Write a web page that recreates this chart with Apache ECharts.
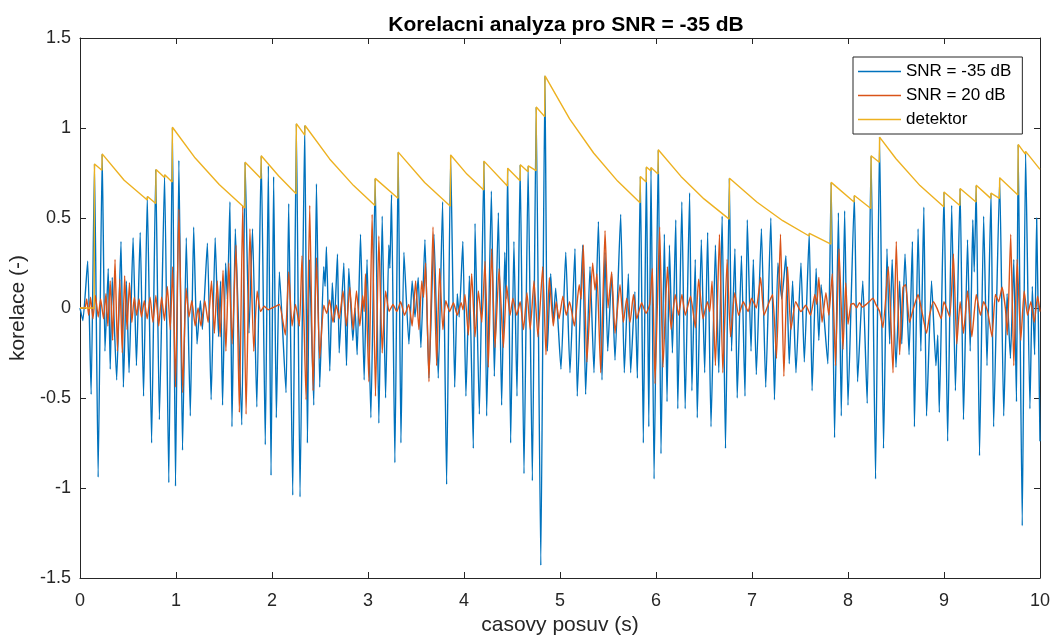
<!DOCTYPE html>
<html>
<head>
<meta charset="utf-8">
<script src="https://cdn.jsdelivr.net/npm/echarts/dist/echarts.min.js"></script>
<style>html,body{margin:0;padding:0;background:#fff;}#c{width:1054px;height:641px;}</style>
</head>
<body>
<div id="c"></div>
<script>
// ---- data: [time (s), correlation] ----
const snrMinus35 = [
[0,0],[0.03,-0.07],[0.08,0.26],[0.116,-0.48],[0.151,0.80],[0.189,-0.94],[0.231,0.856],[0.26,-0.24],[0.294,0.22],[0.315,-0.34],[0.336,0.17],[0.382,-0.40],[0.427,0.37],[0.452,-0.44],[0.483,0.15],[0.511,-0.36],[0.553,0.39],[0.588,-0.32],[0.627,0.42],[0.662,-0.49],[0.701,0.62],[0.746,-0.75],[0.789,0.77],[0.827,-0.62],[0.881,0.74],[0.925,-0.97],[0.963,1.004],[0.995,-0.99],
[1.03,0.82],[1.068,-0.79],[1.107,0.39],[1.149,-0.60],[1.184,0.45],[1.219,-0.20],[1.254,0.04],[1.275,-0.12],[1.327,0.36],[1.366,-0.51],[1.408,0.39],[1.443,-0.16],[1.464,0.15],[1.485,-0.54],[1.517,0.25],[1.535,0.05],[1.562,0.59],[1.583,-0.66],[1.618,0.44],[1.685,-0.65],[1.72,0.81],[1.76,-0.14],[1.797,0.44],[1.842,-0.55],[1.888,0.846],[1.93,-0.76],[1.962,0.79],[1.99,-0.93],
[2.017,0.73],[2.045,-0.61],[2.077,0.20],[2.146,-0.47],[2.174,0.58],[2.216,-1.04],[2.254,1.024],[2.292,-1.05],[2.341,1.014],[2.369,-0.75],[2.39,0.27],[2.435,-0.54],[2.463,0.69],[2.497,-0.44],[2.539,0.23],[2.553,0.12],[2.567,0.34],[2.602,-0.35],[2.628,0.14],[2.65,-0.08],[2.682,0.30],[2.70,-0.25],[2.748,0.25],[2.776,-0.32],[2.80,0.22],[2.842,-0.18],[2.865,0.0],[2.887,-0.26],[2.922,0.41],[2.96,-0.40],[2.99,0.27],
[3.03,-0.61],[3.075,0.72],[3.113,-0.64],[3.148,0.51],[3.183,-0.50],[3.217,0.35],[3.228,0.22],[3.245,0.63],[3.28,-0.86],[3.315,0.866],[3.343,-0.75],[3.374,0.31],[3.426,-0.20],[3.46,0.15],[3.49,-0.05],[3.523,0.17],[3.551,-0.22],[3.593,0.38],[3.635,-0.39],[3.687,0.41],[3.732,-0.39],[3.777,0.59],[3.819,-0.98],[3.861,0.85],[3.903,-0.44],[3.93,0.08],[3.95,-0.05],[3.988,0.37],
[4.02,-0.49],[4.056,0.18],[4.097,-0.78],[4.115,0.47],[4.16,-0.59],[4.208,0.816],[4.236,-0.60],[4.285,0.65],[4.316,-0.38],[4.358,0.53],[4.392,-0.54],[4.425,0.31],[4.438,0.05],[4.455,0.777],[4.486,-0.75],[4.52,0.37],[4.552,-0.49],[4.585,0.796],[4.625,-0.92],[4.668,0.79],[4.712,-0.96],[4.752,1.117],[4.80,-1.43],[4.843,1.29],[4.868,-0.24],[4.903,0.19],[4.93,-0.08],[4.955,0.11],
[5.01,-0.34],[5.06,0.31],[5.104,-0.36],[5.156,0.33],[5.18,-0.49],[5.236,0.35],[5.267,-0.48],[5.3125,0.23],[5.354,-0.36],[5.40,0.48],[5.4375,-0.40],[5.469,0.31],[5.497,-0.24],[5.538,0.19],[5.573,-0.29],[5.632,0.52],[5.67,-0.36],[5.712,0.19],[5.736,-0.36],[5.78,0.09],[5.806,-0.39],[5.837,0.731],[5.868,-0.75],[5.90,0.783],[5.925,-0.66],[5.948,0.78],[5.98,-0.95],
[6.024,0.879],[6.052,-0.81],[6.087,0.41],[6.115,-0.52],[6.14,0.35],[6.171,-0.25],[6.206,0.49],[6.227,-0.56],[6.269,0.59],[6.304,-0.56],[6.35,0.64],[6.374,-0.46],[6.409,0.27],[6.43,-0.61],[6.472,0.38],[6.507,-0.36],[6.538,0.42],[6.573,-0.66],[6.619,0.35],[6.654,-0.36],[6.689,0.51],[6.724,-0.78],[6.764,0.721],[6.787,-0.24],[6.822,0.33],[6.846,-0.50],[6.89,0.29],[6.927,-0.49],[6.951,0.49],[6.99,-0.24],
[7.014,0.27],[7.045,-0.37],[7.098,0.44],[7.143,-0.44],[7.196,0.50],[7.234,-0.51],[7.27,0.25],[7.31,0.05],[7.353,0.29],[7.388,-0.31],[7.423,0.15],[7.458,-0.36],[7.51,0.25],[7.545,-0.30],[7.596,0.415],[7.626,-0.46],[7.668,0.22],[7.696,-0.18],[7.72,0.13],[7.79,-0.31],[7.825,0.698],[7.86,-0.72],[7.90,0.53],[7.93,-0.60],[7.965,0.54],
[8.0,-0.54],[8.066,0.625],[8.1,-0.41],[8.154,0.15],[8.2,-0.53],[8.241,0.846],[8.287,-0.95],[8.329,0.949],[8.37,-0.78],[8.406,0.33],[8.434,-0.20],[8.46,0.27],[8.50,-0.33],[8.538,0.15],[8.56,-0.2],[8.594,0.30],[8.636,-0.26],[8.671,0.37],[8.692,-0.66],[8.73,0.44],[8.759,-0.24],[8.79,0.56],[8.818,-0.60],[8.87,0.15],[8.916,-0.32],[8.935,-0.15],[8.951,-0.58],
[9.0,0.644],[9.038,-0.74],[9.08,0.57],[9.119,-0.46],[9.168,0.664],[9.203,-0.62],[9.245,0.38],[9.273,-0.24],[9.3,0.49],[9.315,0.2],[9.336,0.682],[9.37,-0.82],[9.413,0.51],[9.448,-0.32],[9.49,0.638],[9.517,-0.66],[9.58,0.723],[9.622,-0.60],[9.657,0.08],[9.692,-0.28],[9.727,0.27],[9.755,-0.52],[9.773,0.909],[9.815,-1.21],[9.85,0.87],[9.895,-0.56],[9.92,0.12],[9.944,-0.26],[9.965,0.50],[10.0,-0.74]
];

const snr20 = [
[0,0],[0.05,0.0],[0.07,0.05],[0.09,-0.04],[0.11,0.06],[0.135,-0.06],[0.16,0.07],[0.19,-0.05],[0.215,0.05],[0.245,-0.06],[0.27,0.08],[0.29,-0.10],[0.315,0.15],[0.34,-0.18],[0.365,0.27],[0.39,-0.24],[0.415,0.16],[0.44,-0.25],[0.465,0.18],[0.49,-0.12],[0.515,0.14],[0.54,-0.08],[0.565,0.06],[0.59,-0.04],[0.615,0.05],[0.64,-0.05],[0.67,0.04],[0.70,-0.06],[0.73,0.06],[0.76,-0.08],[0.79,0.07],[0.82,-0.10],[0.85,0.06],[0.88,-0.07],[0.91,0.12],[0.94,-0.12],[0.965,0.23],[0.995,-0.44],
[1.03,0.55],[1.07,-0.47],[1.105,0.11],[1.135,-0.05],[1.165,0.04],[1.20,-0.10],[1.23,0.0],[1.26,-0.10],[1.30,0.04],[1.335,-0.08],[1.37,0.15],[1.40,-0.14],[1.43,0.15],[1.46,-0.16],[1.49,0.21],[1.52,-0.24],[1.55,0.25],[1.585,-0.20],[1.625,0.35],[1.66,-0.58],[1.695,0.57],[1.73,-0.59],[1.77,0.44],[1.81,-0.24],[1.845,0.095],[1.88,-0.02],[1.92,0.01],[1.96,-0.01],
[2.0,0.0],[2.04,0.01],[2.077,0.02],[2.139,-0.15],[2.174,0.20],[2.209,-0.10],[2.245,0.02],[2.285,-0.10],[2.313,0.29],[2.355,-0.51],[2.393,0.57],[2.428,-0.46],[2.463,0.28],[2.497,-0.28],[2.539,0.015],[2.57,-0.03],[2.6,0.045],[2.635,-0.08],[2.67,0.015],[2.70,-0.06],[2.74,0.095],[2.775,-0.10],[2.81,0.115],[2.845,-0.12],[2.88,0.095],[2.915,-0.10],[2.945,0.07],[2.96,-0.02],[2.974,0.19],
[3.009,-0.41],[3.043,0.52],[3.078,-0.49],[3.113,0.40],[3.148,-0.25],[3.183,0.095],[3.22,-0.02],[3.26,0.02],[3.30,-0.02],[3.34,0.035],[3.38,-0.04],[3.425,0.02],[3.46,-0.10],[3.496,0.15],[3.53,-0.12],[3.56,0.15],[3.578,0.06],[3.6,0.25],[3.635,-0.41],[3.677,0.45],[3.715,-0.32],[3.746,0.22],[3.78,-0.12],[3.81,0.04],[3.85,-0.02],[3.89,0.03],[3.93,-0.04],[3.97,0.03],[3.99,-0.01],
[4.01,0.075],[4.045,-0.15],[4.08,0.19],[4.115,-0.16],[4.15,0.095],[4.185,-0.08],[4.219,0.26],[4.253,-0.33],[4.288,0.33],[4.323,-0.22],[4.365,0.22],[4.41,-0.22],[4.444,0.125],[4.48,-0.04],[4.51,0.055],[4.55,-0.04],[4.585,0.035],[4.62,-0.12],[4.656,0.085],[4.69,-0.12],[4.729,0.15],[4.77,-0.16],[4.82,0.23],[4.854,-0.26],[4.889,0.17],[4.93,-0.10],[4.96,0.035],[4.99,-0.06],
[5.03,0.065],[5.065,-0.04],[5.10,0.035],[5.15,-0.10],[5.20,0.13],[5.22,0.05],[5.243,0.35],[5.28,-0.30],[5.34,0.25],[5.365,0.1],[5.385,0.19],[5.424,-0.36],[5.469,0.43],[5.50,0.0],[5.538,0.20],[5.573,-0.14],[5.625,0.13],[5.66,-0.08],[5.695,0.055],[5.73,-0.08],[5.765,0.075],[5.80,-0.06],[5.85,0.03],[5.895,-0.03],[5.935,0.02],[5.962,0.22],[5.99,-0.42],
[6.038,0.45],[6.073,-0.33],[6.119,0.23],[6.157,-0.12],[6.2,0.075],[6.235,-0.04],[6.27,0.075],[6.305,-0.04],[6.36,0.065],[6.41,-0.11],[6.444,0.16],[6.49,-0.06],[6.535,0.035],[6.56,-0.02],[6.584,0.15],[6.619,-0.32],[6.661,0.41],[6.696,-0.36],[6.741,0.27],[6.776,-0.16],[6.82,0.085],[6.86,-0.04],[6.91,0.035],[6.96,-0.02],[6.995,0.055],
[7.045,0.0],[7.09,0.17],[7.125,-0.04],[7.18,0.035],[7.215,0.075],[7.255,-0.28],[7.297,0.41],[7.332,-0.38],[7.37,0.23],[7.405,-0.12],[7.455,0.035],[7.51,-0.02],[7.56,0.015],[7.61,-0.04],[7.655,0.075],[7.675,0.02],[7.696,0.17],[7.73,-0.08],[7.77,0.085],[7.80,-0.04],[7.836,0.19],[7.87,-0.32],[7.906,0.33],[7.948,-0.23],[7.976,0.14],
[8.0,-0.09],[8.03,0.02],[8.06,0.025],[8.09,0.0],[8.12,0.03],[8.15,0.005],[8.19,0.02],[8.22,0.035],[8.26,0.055],[8.29,0.02],[8.33,-0.02],[8.364,-0.11],[8.42,0.23],[8.469,-0.36],[8.503,0.37],[8.538,-0.26],[8.573,0.115],[8.60,0.13],[8.64,-0.08],[8.68,-0.005],[8.73,0.075],[8.77,-0.02],[8.818,-0.14],[8.85,-0.04],[8.89,0.035],[8.93,-0.005],[8.97,-0.06],
[9.0,0.035],[9.06,-0.05],[9.098,0.30],[9.133,-0.20],[9.168,0.035],[9.203,-0.14],[9.245,0.095],[9.29,-0.16],[9.336,0.075],[9.38,-0.04],[9.413,0.035],[9.455,-0.02],[9.5,-0.16],[9.535,0.075],[9.57,0.035],[9.605,0.115],[9.64,-0.005],[9.66,-0.15],[9.695,0.41],[9.727,-0.32],[9.762,0.27],[9.80,-0.18],[9.835,0.095],[9.87,-0.04],[9.905,0.035],[9.94,-0.08],[9.975,0.065],[10.0,-0.02]
];

const detektor = [
[0,0],[0.148,0],[0.151,0.80],[0.228,0.765],[0.231,0.856],[0.46,0.71],[0.701,0.60],[0.704,0.62],[0.789,0.58],[0.792,0.77],[0.88,0.725],[0.883,0.74],[0.96,0.70],[0.963,1.004],[1.2,0.833],[1.45,0.686],[1.717,0.555],[1.72,0.81],[1.885,0.72],[1.888,0.846],[2.07,0.733],[2.251,0.635],[2.254,1.024],[2.341,0.96],[2.344,1.014],[2.6,0.828],[2.85,0.68],[3.072,0.57],[3.075,0.72],[3.312,0.61],[3.315,0.866],[3.59,0.697],[3.858,0.565],[3.861,0.85],[4.03,0.744],[4.205,0.655],[4.208,0.816],[4.452,0.678],[4.455,0.777],[4.584,0.707],[4.587,0.796],[4.667,0.757],[4.67,0.79],[4.75,0.763],[4.753,1.117],[4.84,1.063],[4.844,1.29],[5.1,1.051],[5.35,0.861],[5.6,0.705],[5.834,0.585],[5.837,0.731],[5.897,0.70],[5.90,0.783],[5.945,0.762],[5.948,0.78],[6.021,0.745],[6.024,0.879],[6.26,0.731],[6.5,0.606],[6.762,0.494],[6.766,0.721],[7.05,0.589],[7.32,0.485],[7.595,0.40],[7.598,0.415],[7.822,0.355],[7.825,0.698],[8.063,0.589],[8.066,0.625],[8.238,0.553],[8.241,0.846],[8.326,0.81],[8.329,0.949],[8.5,0.829],[8.75,0.68],[8.997,0.562],[9.0,0.644],[9.165,0.569],[9.168,0.664],[9.333,0.589],[9.336,0.682],[9.487,0.609],[9.49,0.638],[9.577,0.609],[9.58,0.723],[9.77,0.628],[9.773,0.909],[9.847,0.855],[9.85,0.87],[10.0,0.77]
];

const seriesNames = ['SNR = -35 dB', 'SNR = 20 dB', 'detektor'];
const seriesColors = ['#0072BD', '#D95319', '#EDB120'];
const seriesSmooth = [0.15, 0.15, false];
const titleText = 'Korelacni analyza pro SNR = -35 dB';
const xName = 'casovy posuv (s)';
const yName = 'korelace (-)';

const FONT = '"Liberation Sans", Arial, Helvetica, sans-serif';
const AX = '#262626';

const chart = echarts.init(document.getElementById('c'), null, {renderer: 'canvas'});

function boxAxis(extra) {
  return Object.assign({
    type: 'value',
    axisLine: {show: true, onZero: false, lineStyle: {color: AX, width: 1}},
    axisTick: {show: true, inside: true, length: 6, lineStyle: {color: AX, width: 1}},
    splitLine: {show: false},
  }, extra);
}

const option = {
  animation: false,
  backgroundColor: '#fff',
  title: {
    text: titleText, left: 561, top: 10, textAlign: 'center',
    textStyle: {fontFamily: FONT, fontSize: 21, fontWeight: 'bold', color: '#000'}
  },
  grid: {left: 80, right: 14, top: 38, bottom: 61, containLabel: false},
  legend: {
    orient: 'vertical', left: 853, top: 57,
    padding: [6, 11, 6, 5], itemWidth: 43, itemHeight: 1.4, itemGap: 7,
    icon: 'rect',
    backgroundColor: '#fff', borderColor: AX, borderWidth: 1, borderRadius: 0,
    textStyle: {fontFamily: FONT, fontSize: 17, color: '#000', lineHeight: 17},
    data: seriesNames
  },
  xAxis: [
    boxAxis({
      min: 0, max: 10, interval: 1, position: 'bottom',
      name: xName, nameLocation: 'middle', nameGap: 37,
      nameTextStyle: {fontFamily: FONT, fontSize: 21, color: AX},
      axisLabel: {fontFamily: FONT, fontSize: 18, color: AX, margin: 14}
    }),
    boxAxis({min: 0, max: 10, interval: 1, position: 'top', axisLabel: {show: false}})
  ],
  yAxis: [
    boxAxis({
      min: -1.5, max: 1.5, interval: 0.5, position: 'left',
      name: yName, nameLocation: 'middle', nameGap: 46,
      nameTextStyle: {fontFamily: FONT, fontSize: 21, color: AX},
      axisLabel: {fontFamily: FONT, fontSize: 18, color: AX, margin: 9}
    }),
    boxAxis({min: -1.5, max: 1.5, interval: 0.5, position: 'right', axisLabel: {show: false}})
  ],
  series: [snrMinus35, snr20, detektor].map((d, i) => ({
    name: seriesNames[i], type: 'line', data: d,
    xAxisIndex: 0, yAxisIndex: 0,
    symbol: 'none', showSymbol: false, smooth: seriesSmooth[i], sampling: false,
    lineStyle: {color: seriesColors[i], width: 1.4},
    itemStyle: {color: seriesColors[i]},
    emphasis: {disabled: true}, z: 2 + i
  }))
};
chart.setOption(option);
</script>
</body>
</html>
